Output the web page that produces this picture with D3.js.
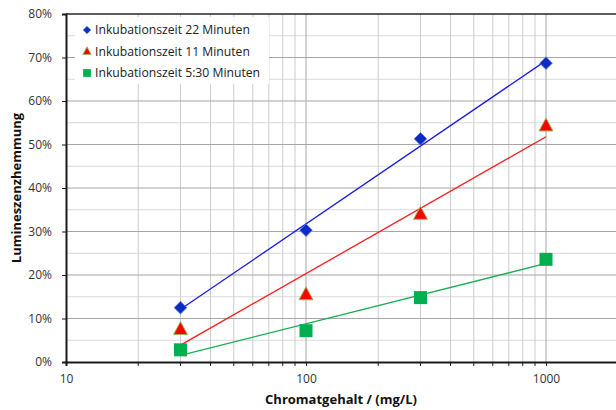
<!DOCTYPE html>
<html>
<head>
<meta charset="utf-8">
<script src="https://cdn.jsdelivr.net/npm/d3@7"></script>
<style>
  body { margin: 0; background: #fff; }
  svg { display: block; font-family: "Open Sans", "Noto Sans", sans-serif; }
</style>
</head>
<body>
<svg id="chart" width="616" height="410"></svg>
<script>
// Konzentrationen (mg/L) und gemessene Lumineszenzhemmung (Anteil)
const concentrations = [30, 100, 300, 1000];
const inhibition22 = [0.125, 0.303, 0.513, 0.687];
const inhibition11 = [0.075, 0.155, 0.34, 0.543];
const inhibition530 = [0.028, 0.072, 0.148, 0.236];
const seriesNames = ['Inkubationszeit 22 Minuten', 'Inkubationszeit 11 Minuten', 'Inkubationszeit 5:30 Minuten'];
const xTickValues = [10, 100, 1000];
const yTickValues = [0, 0.1, 0.2, 0.3, 0.4, 0.5, 0.6, 0.7, 0.8];

const series = [
  { name: seriesNames[0], values: inhibition22, color: '#0a2bc4', line: '#1a1ae6', shape: 'diamond' },
  { name: seriesNames[1], values: inhibition11, color: '#ff0000', line: '#ff1a1a', shape: 'triangle' },
  { name: seriesNames[2], values: inhibition530, color: '#00b050', line: '#14b050', shape: 'square' }
];

const svg = d3.select('#chart');
const margin = { top: 14, left: 66, bottom: 48 };
const height = 410;

// log axis: one decade = 240px, box runs past the right edge of the picture
const x = d3.scaleLog().domain([10, 10000]).range([margin.left, margin.left + 720]);
const y = d3.scaleLinear().domain([0, 0.8]).range([height - margin.bottom, margin.top]);
const x0 = x.range()[0], y0 = y(0), yTop = y(0.8);

const grid = svg.append('g');

// horizontal minor grid (5%)
d3.range(0.05, 0.8, 0.1).forEach(v => {
  grid.append('line')
    .attr('x1', x0).attr('x2', 616)
    .attr('y1', y(v)).attr('y2', y(v))
    .attr('stroke', '#d9d9d9').attr('stroke-width', 1);
});

// vertical log grid
const minorX = [];
[10, 100, 1000].forEach(d => { for (let k = 2; k <= 9; k++) minorX.push(d * k); });
minorX.forEach(v => {
  grid.append('line')
    .attr('x1', x(v)).attr('x2', x(v))
    .attr('y1', yTop).attr('y2', y0)
    .attr('stroke', '#cccccc').attr('stroke-width', 1);
});
[100, 1000].forEach(v => {
  grid.append('line')
    .attr('x1', x(v)).attr('x2', x(v))
    .attr('y1', yTop).attr('y2', y0)
    .attr('stroke', '#a6a6a6').attr('stroke-width', 1);
});

// horizontal major grid (10%)
yTickValues.slice(1, -1).forEach(v => {
  grid.append('line')
    .attr('x1', x0).attr('x2', 616)
    .attr('y1', y(v)).attr('y2', y(v))
    .attr('stroke', '#a6a6a6').attr('stroke-width', 1);
});

// top border
svg.append('line')
  .attr('x1', x0).attr('x2', 616)
  .attr('y1', yTop).attr('y2', yTop)
  .attr('stroke', '#262626').attr('stroke-width', 1.5);

// axes
const yAxis = svg.append('g')
  .attr('transform', `translate(${x0},0)`)
  .call(d3.axisLeft(y).tickValues(yTickValues).tickFormat(d3.format('.0%')).tickSize(4).tickPadding(10));
const xAxis = svg.append('g')
  .attr('transform', `translate(0,${y0})`)
  .call(d3.axisBottom(x).tickValues(xTickValues).tickFormat(d3.format('d')).tickSize(4).tickPadding(8));

[yAxis, xAxis].forEach(ax => {
  ax.select('.domain').attr('stroke', '#1a1a1a').attr('stroke-width', 2);
  ax.selectAll('.tick line').attr('stroke', '#1a1a1a');
  ax.selectAll('text').attr('font-size', 12).attr('fill', '#333');
  ax.attr('font-family', null);
});

// minor tick marks on the x axis
svg.append('g').selectAll('line').data(minorX).join('line')
  .attr('x1', d => x(d)).attr('x2', d => x(d))
  .attr('y1', y0).attr('y2', y0 + 4)
  .attr('stroke', '#1a1a1a');

// log trend lines (least squares on log10 x)
function trend(values) {
  const lx = concentrations.map(Math.log10);
  const mx = d3.mean(lx), my = d3.mean(values);
  const sxy = d3.sum(lx, (v, i) => (v - mx) * (values[i] - my));
  const sxx = d3.sum(lx, v => (v - mx) ** 2);
  const b = sxy / sxx, a = my - b * mx;
  return c => a + b * Math.log10(c);
}

const xMin = d3.min(concentrations), xMax = d3.max(concentrations);
series.forEach(s => {
  const f = trend(s.values);
  svg.append('line')
    .attr('x1', x(xMin)).attr('y1', y(f(xMin)))
    .attr('x2', x(xMax)).attr('y2', y(f(xMax)))
    .attr('stroke', s.line).attr('stroke-width', 1.3);
});

function marker(g, shape, color, scale) {
  const k = scale || 1;
  if (shape === 'diamond') {
    g.append('path').attr('d', d3.symbol(d3.symbolSquare, 80 * k * k)())
      .attr('transform', 'rotate(45)')
      .attr('fill', color).attr('stroke', '#5a7fd8').attr('stroke-width', 0.8);
  } else if (shape === 'triangle') {
    const h = 13 * k, w = 14 * k;
    g.append('path').attr('d', `M0,${-h * 0.6}L${w / 2},${h * 0.4}L${-w / 2},${h * 0.4}Z`)
      .attr('fill', color).attr('stroke', '#9bbb59').attr('stroke-width', 1);
  } else {
    const s = 13 * k;
    g.append('rect').attr('x', -s / 2).attr('y', -s / 2).attr('width', s).attr('height', s)
      .attr('fill', color);
  }
}

series.forEach(s => {
  concentrations.forEach((c, i) => {
    const g = svg.append('g').attr('transform', `translate(${x(c)},${y(s.values[i])})`);
    marker(g, s.shape, s.color);
  });
});

// legend
const legend = svg.append('g');
legend.append('rect')
  .attr('x', 75).attr('y', 17).attr('width', 194).attr('height', 67)
  .attr('fill', '#fff');
series.forEach((s, i) => {
  const yy = 30 + i * 21.5;
  const g = legend.append('g').attr('transform', `translate(87,${yy})`);
  marker(g, s.shape, s.color, 0.6);
  legend.append('text')
    .attr('x', 95).attr('y', yy).attr('dy', '0.35em')
    .attr('font-size', 12.2).attr('fill', '#222')
    .text(s.name);
});

// axis titles
svg.append('text')
  .attr('x', 341).attr('y', 404)
  .attr('text-anchor', 'middle')
  .attr('font-size', 13).attr('font-weight', 'bold').attr('fill', '#111')
  .text('Chromatgehalt / (mg/L)');
svg.append('text')
  .attr('transform', `translate(21,${(yTop + y0) / 2}) rotate(-90)`)
  .attr('text-anchor', 'middle')
  .attr('font-size', 13).attr('font-weight', 'bold').attr('fill', '#111')
  .text('Lumineszenzhemmung');
</script>
</body>
</html>
